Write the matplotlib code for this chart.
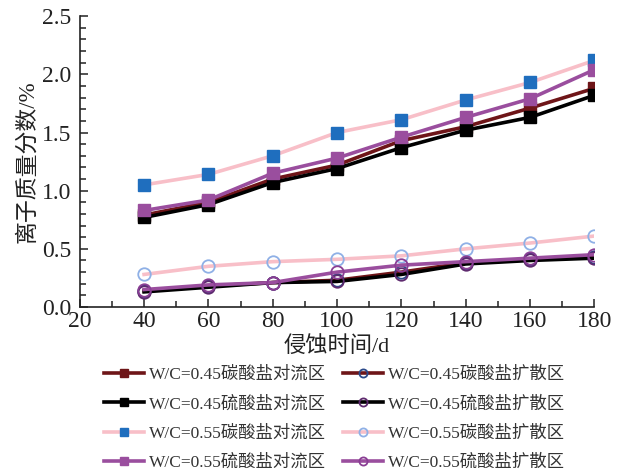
import matplotlib
matplotlib.use("Agg")
import matplotlib.pyplot as plt
from matplotlib.ticker import MultipleLocator, FormatStrFormatter

plt.rcParams['font.family'] = ['Liberation Serif', 'Noto Sans CJK SC']
plt.rcParams['axes.unicode_minus'] = False

days = [40, 60, 80, 100, 120, 140, 160, 180]

# convection zone
c45_conv = [0.79, 0.90, 1.10, 1.22, 1.43, 1.55, 1.71, 1.88]
s45_conv = [0.77, 0.88, 1.07, 1.19, 1.37, 1.52, 1.63, 1.82]
c55_conv = [1.05, 1.14, 1.30, 1.50, 1.61, 1.78, 1.93, 2.12]
s55_conv = [0.83, 0.92, 1.15, 1.28, 1.46, 1.63, 1.79, 2.04]
# diffusion zone
c45_diff = [0.14, 0.18, 0.21, 0.23, 0.30, 0.38, 0.41, 0.43]
s45_diff = [0.13, 0.17, 0.21, 0.22, 0.28, 0.37, 0.40, 0.42]
c55_diff = [0.28, 0.35, 0.39, 0.41, 0.44, 0.50, 0.55, 0.61]
s55_diff = [0.15, 0.19, 0.21, 0.30, 0.36, 0.39, 0.42, 0.45]

labels_conv = ["W/C=0.45碳酸盐对流区", "W/C=0.45硫酸盐对流区",
               "W/C=0.55碳酸盐对流区", "W/C=0.55硫酸盐对流区"]
labels_diff = ["W/C=0.45碳酸盐扩散区", "W/C=0.45硫酸盐扩散区",
               "W/C=0.55碳酸盐扩散区", "W/C=0.55硫酸盐扩散区"]

dark_red = "#6E1518"
pink = "#F8BFC8"
blue = "#1F6EBE"
purple = "#9A4E9E"

fig = plt.figure(figsize=(6.23, 4.76), dpi=100)
ax = fig.add_axes([0.128, 0.355, 0.826, 0.611])

lw = 2.6
conv_styles = [
    dict(color=dark_red, mfc=dark_red, mec=dark_red),
    dict(color="black", mfc="black", mec="black"),
    dict(color=pink, mfc=blue, mec=blue),
    dict(color=purple, mfc=purple, mec=purple),
]
diff_styles = [
    dict(color=dark_red, mec="#2B4A8A"),
    dict(color="black", mec="#5E2A6E"),
    dict(color=pink, mec="#8FB0E6"),
    dict(color=purple, mec="#8A3E94"),
]

handles_conv = []
handles_diff = []
for ys, lab, st in zip([c45_conv, s45_conv, c55_conv, s55_conv], labels_conv, conv_styles):
    h, = ax.plot(days, ys, marker="s", markersize=8.5, lw=lw, label=lab, **st)
    handles_conv.append(h)
for ys, lab, st in zip([c45_diff, s45_diff, c55_diff, s55_diff], labels_diff, diff_styles):
    h, = ax.plot(days, ys, marker="o", markersize=9, mfc="none", mew=1.3, lw=lw, label=lab, **st)
    handles_diff.append(h)

ax.set_xlim(20, 180)
ax.set_ylim(0, 2.5)
ax.xaxis.set_major_locator(MultipleLocator(20))
ax.xaxis.set_minor_locator(MultipleLocator(10))
ax.yaxis.set_major_locator(MultipleLocator(0.5))
ax.yaxis.set_minor_locator(MultipleLocator(0.1))
ax.yaxis.set_major_formatter(FormatStrFormatter('%.1f'))
for s in ["top", "right"]:
    ax.spines[s].set_visible(False)
for s in ["left", "bottom"]:
    ax.spines[s].set_linewidth(1.2)
    ax.spines[s].set_color("#222222")
ax.tick_params(which="both", direction="in", colors="#222222", labelsize=17, width=1.1)
ax.tick_params(which="major", length=6)
ax.tick_params(which="minor", length=4)
ax.tick_params(axis="x", pad=3)
ax.tick_params(axis="y", pad=6)

ax.set_xlabel("侵蚀时间/d", fontsize=16, labelpad=3, color="#222222")
ax.set_ylabel("离子质量分数/%", fontsize=16.5, labelpad=3, color="#222222")

handles = handles_conv + handles_diff
fig.legend(handles=handles, labels=[h.get_label() for h in handles],
           loc="upper left", bbox_to_anchor=(0.142, 0.262), ncol=2,
           frameon=False, fontsize=12.5, handlelength=2.3, markerscale=0.65,
           columnspacing=0.95, labelspacing=0.75, handletextpad=0.3,
           labelcolor="#333333")

fig.savefig("out.png", dpi=100)
